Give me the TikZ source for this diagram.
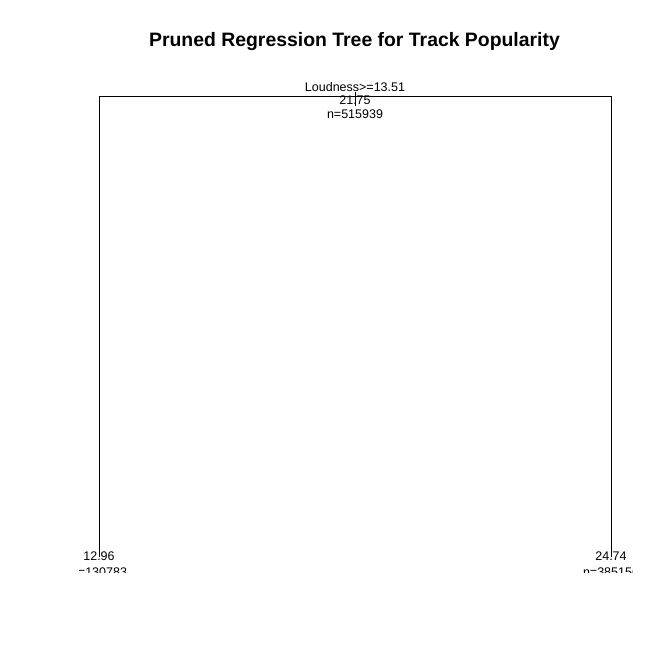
\documentclass[tikz,border=0pt]{standalone}
\usepackage{fontspec}
\setmainfont{Liberation Sans}
\begin{document}
\begin{tikzpicture}[x=1pt,y=-1pt,
  lbl/.style={font=\fontsize{12.5}{12.5}\selectfont, inner sep=0pt, anchor=base},
  edge/.style={draw=black, line width=0.75pt}]
\useasboundingbox[fill=white] (0,0) rectangle (672,671);
\node[font=\bfseries\fontsize{19.4}{19.4}\selectfont, anchor=base, inner sep=0pt] (title) at (354.5,47) {Pruned Regression Tree for Track Popularity};
% tree skeleton
\coordinate (root) at (355,92);
\coordinate (rootb) at (355,106);
\coordinate (lt) at (99,96.5);
\coordinate (rt) at (611,96.5);
\coordinate (lb) at (99,557);
\coordinate (rb) at (611,557);
\draw[edge] (lb) -- (lt) -- (rt) -- (rb);
\draw[edge] (root) -- (rootb);
\node[lbl] (split) at (355,92) {Loudness>=13.51};
\node[lbl] (rootval) at (355,105) {21.75};
\node[lbl] (rootn) at (355,118.5) {n=515939};
\begin{scope}
\clip (79,60) rectangle (632,572.5);
\node[lbl] (lval) at (99,560.5) {12.96};
\node[lbl] (ln) at (99,576) {n=130783};
\node[lbl] (rval) at (611,560.5) {24.74};
\node[lbl] (rn) at (611,576) {n=385156};
\end{scope}
\end{tikzpicture}
\end{document}
